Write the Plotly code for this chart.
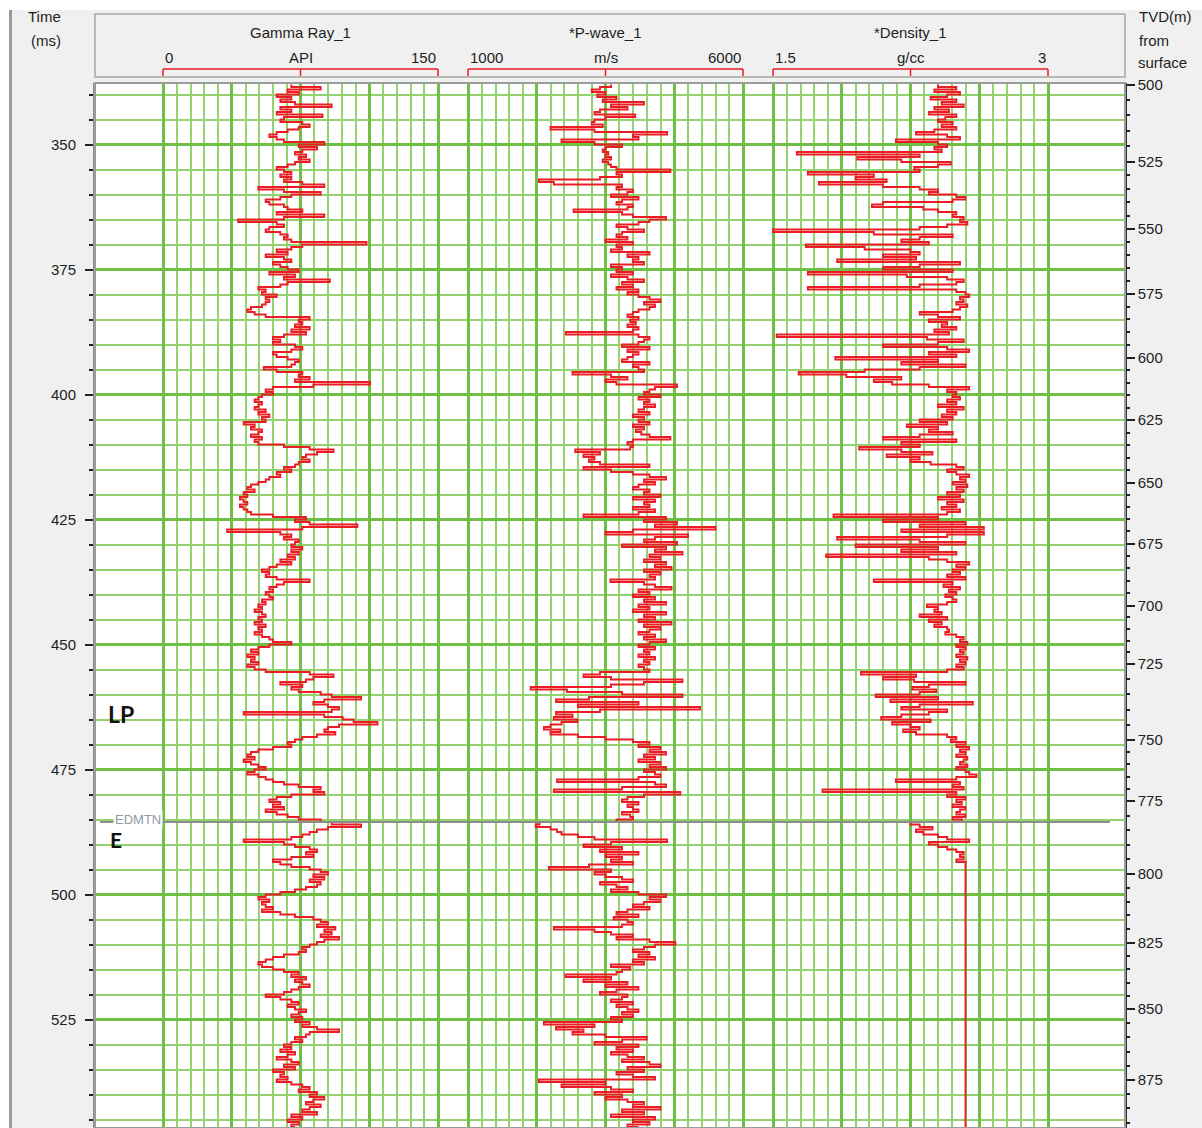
import numpy as np
import plotly.graph_objects as go

# ---------------- DATA ----------------
SAMPLE_START_MS = 338.0
SAMPLE_STEP_MS = 0.5

gamma_api = [
    70, 86, 68, 74, 62, 70, 64, 72, 92, 64,
    70, 62, 87, 66, 64, 76, 80, 74, 68, 62,
    58, 62, 66, 88, 74, 84, 76, 72, 78, 74,
    80, 72, 68, 62, 66, 70, 64, 70, 66, 76,
    88, 52, 66, 86, 70, 64, 56, 58, 66, 68,
    76, 62, 88, 66, 41, 62, 66, 58, 56, 64,
    68, 66, 70, 111, 76, 70, 62, 68, 56, 66,
    70, 60, 64, 68, 74, 58, 72, 66, 91, 68,
    64, 52, 56, 54, 62, 56, 58, 56, 54, 48,
    46, 50, 56, 80, 74, 76, 72, 80, 70, 78,
    66, 60, 64, 60, 72, 76, 70, 60, 62, 68,
    74, 72, 70, 55, 62, 76, 74, 80, 72, 113,
    82, 60, 56, 60, 54, 52, 50, 54, 52, 50,
    56, 52, 58, 54, 56, 44, 50, 48, 54, 52,
    48, 54, 50, 52, 66, 80, 93, 84, 78, 76,
    80, 74, 72, 66, 70, 62, 64, 58, 56, 52,
    48, 46, 50, 44, 46, 42, 44, 46, 42, 44,
    46, 48, 60, 78, 72, 80, 106, 76, 35, 64,
    70, 66, 74, 72, 70, 76, 70, 74, 68, 72,
    64, 70, 62, 58, 54, 58, 56, 62, 80, 66,
    62, 58, 60, 56, 58, 60, 54, 56, 52, 54,
    50, 54, 56, 52, 54, 50, 56, 52, 54, 50,
    54, 58, 60, 70, 58, 52, 48, 52, 46, 50,
    48, 52, 46, 50, 56, 80, 93, 82, 78, 64,
    76, 70, 74, 86, 92, 108, 88, 82, 90, 96,
    92, 44, 88, 98, 104, 117, 96, 90, 88, 94,
    84, 76, 72, 68, 70, 60, 52, 48, 46, 50,
    44, 48, 52, 56, 50, 46, 52, 56, 60, 66,
    74, 86, 82, 88, 70, 62, 58, 64, 60, 66,
    56, 62, 68, 74, 86, 92, 108, 90, 84, 80,
    76, 70, 44, 66, 72, 80, 84, 78, 82, 70,
    60, 64, 70, 80, 86, 90, 82, 88, 80, 86,
    84, 78, 72, 64, 56, 52, 58, 54, 56, 60,
    54, 64, 72, 82, 86, 90, 84, 94, 88, 92,
    86, 96, 88, 84, 80, 76, 78, 74, 66, 60,
    56, 52, 54, 60, 66, 74, 70, 78, 72, 76,
    80, 74, 70, 66, 56, 64, 70, 74, 68, 72,
    78, 74, 70, 76, 72, 80, 76, 84, 96, 80,
    78, 72, 76, 70, 66, 70, 64, 72, 68, 62,
    70, 74, 66, 72, 60, 66, 64, 68, 62, 70,
    76, 80, 74, 84, 80, 88, 82, 78, 86, 80,
    76, 84, 70, 76, 68, 74, 70, 72,
]

pwave_ms = [
    3600, 3400, 3250, 3500, 3350, 3700, 3450, 4200, 3600, 3900,
    3400, 3300, 4040, 3500, 3300, 3250, 3450, 2500, 3300, 4620,
    4000, 4100, 2700, 3300, 3800, 3500, 3450, 3550, 3500, 3600,
    3450, 3550, 3600, 3700, 4680, 3700, 3800, 3400, 2290, 2560,
    3800, 3700, 4000, 3900, 3600, 4100, 3800, 3700, 4000, 3900,
    2920, 3800, 4000, 4600, 4300, 4100, 3700, 3900, 4200, 3800,
    3700, 3900, 3500, 4000, 3700, 3800, 3600, 4300, 3900, 4100,
    4000, 4200, 3600, 3800, 3700, 4000, 3600, 3900, 4200, 3800,
    4000, 3700, 4100, 3900, 4100, 4300, 4500, 4200, 4400, 4300,
    4100, 4000, 3900, 4100, 3950, 4050, 3900, 4100, 4000, 2780,
    4100, 4300, 4200, 4100, 3800, 4300, 3900, 4100, 4000, 3900,
    3800, 4300, 4000, 4100, 4200, 2900, 3600, 3900, 3500, 3700,
    4800, 4400, 4300, 4200, 4500, 4100, 4300, 4200, 4400, 4200,
    4100, 4300, 4000, 4200, 4100, 4300, 4000, 4200, 4050, 4150,
    4300, 4680, 4000, 3900, 4000, 3950, 2950, 3400, 3100, 3300,
    3200, 3400, 4300, 3100, 3600, 4000, 4300, 4600, 4200, 4400,
    4100, 4000, 4300, 4200, 4500, 4000, 4400, 4200, 4300, 4000,
    4400, 4100, 3100, 4600, 4200, 4800, 4400, 5500, 4000, 3500,
    5000, 4400, 4200, 4800, 3800, 4600, 4400, 4900, 4300, 4500,
    4200, 4600, 4400, 4700, 4200, 4500, 4300, 4400, 3590, 4200,
    4400, 4700, 4100, 4300, 4000, 4400, 4200, 4600, 4100, 4300,
    4000, 4600, 4200, 4400, 4100, 4700, 4200, 4500, 4300, 4100,
    4400, 4200, 4600, 4300, 4100, 4400, 4200, 4300, 4100, 4400,
    4200, 4300, 4100, 4200, 4300, 3400, 3100, 3600, 4900, 4200,
    3600, 2140, 2800, 3800, 4900, 3200, 2600, 4100, 3000, 5220,
    3400, 2600, 2900, 2560, 2990, 2700, 2500, 2380, 2680, 2500,
    3000, 3500, 4000, 4300, 4100, 4500, 4300, 4600, 4200, 4400,
    4100, 4500, 4300, 4600, 4200, 4400, 4500, 4100, 2620, 4400,
    4600, 3800, 2560, 4860, 4200, 3900, 3800, 4100, 3900, 4000,
    4100, 3800, 3950, 4000, 3700, 2300, 2230, 2500, 2620, 2700,
    3000, 3300, 4620, 3600, 3100, 3800, 3400, 4100, 3500, 3800,
    3600, 4000, 3200, 2470, 3600, 3300, 3500, 3800, 4000, 3400,
    3700, 3900, 3600, 4100, 4600, 4300, 4500, 4200, 4000, 4300,
    3900, 3700, 4100, 3650, 3900, 4000, 3800, 2560, 3300, 3600,
    4000, 3700, 4300, 4770, 4400, 4200, 4000, 4300, 4100, 4400,
    4000, 4200, 3600, 3950, 3800, 3700, 2770, 3600, 3100, 3900,
    3500, 4100, 3700, 3400, 3900, 3800, 3600, 4000, 3700, 3900,
    4100, 3800, 4000, 3600, 3800, 2380, 3300, 2600, 3100, 2900,
    3500, 4250, 3800, 3300, 4100, 3700, 4000, 3600, 3900, 4200,
    3800, 4300, 4500, 3900, 4200, 3700, 4000, 4400, 2290, 3500,
    2700, 3600, 4000, 3300, 3800, 3500, 3900, 4200, 4000, 4500,
    3800, 4200, 3600, 4400, 4000, 4300, 3900, 4100,
]

density_gcc = [
    2.40, 2.50, 2.38, 2.52, 2.45, 2.36, 2.50, 2.42, 2.54, 2.38,
    2.46, 2.35, 2.50, 2.44, 2.40, 2.48, 2.42, 2.50, 2.38, 2.28,
    2.45, 2.52, 2.17, 2.40, 2.45, 2.38, 2.42, 1.63, 2.30, 1.96,
    2.20, 2.47, 2.40, 2.27, 2.30, 1.69, 2.05, 1.95, 2.12, 1.75,
    2.10, 2.30, 2.40, 2.35, 2.50, 2.55, 2.48, 2.10, 2.04, 2.32,
    2.40, 2.50, 2.48, 2.54, 2.52, 2.56, 2.45, 2.30, 1.50, 2.05,
    2.48, 2.30, 2.20, 2.35, 1.68, 2.00, 2.25, 2.30, 2.10, 2.28,
    1.85, 2.52, 2.30, 2.10, 2.48, 1.69, 2.23, 2.45, 2.54, 2.50,
    2.30, 1.69, 2.50, 2.55, 2.57, 2.52, 2.54, 2.50, 2.56, 2.52,
    2.48, 2.30, 2.40, 2.52, 2.35, 2.45, 2.42, 2.50, 2.38, 2.46,
    1.52, 2.34, 2.54, 2.40, 2.10, 2.45, 2.57, 2.35, 2.50, 1.84,
    2.40, 2.20, 2.55, 2.30, 2.00, 1.64, 1.90, 2.20, 2.05, 2.15,
    2.35, 2.57, 2.45, 2.50, 2.48, 2.52, 2.45, 2.50, 2.40, 2.54,
    2.45, 2.50, 2.42, 2.48, 2.30, 2.45, 2.23, 2.40, 2.35, 2.48,
    2.30, 2.10, 2.50, 2.20, 2.30, 1.97, 2.20, 2.37, 2.12, 2.30,
    2.25, 2.36, 2.50, 2.54, 2.45, 2.50, 2.57, 2.52, 2.55, 2.48,
    2.56, 2.50, 2.54, 2.45, 2.52, 2.40, 2.54, 2.45, 2.50, 2.42,
    2.52, 2.45, 1.83, 2.40, 2.10, 2.55, 2.30, 2.65, 2.20, 2.65,
    2.45, 1.85, 2.30, 2.55, 1.95, 2.40, 2.20, 2.50, 1.79, 2.35,
    2.45, 2.57, 2.50, 2.55, 2.48, 2.52, 2.45, 2.55, 2.05, 2.48,
    2.43, 2.52, 2.46, 2.50, 2.44, 2.48, 2.50, 2.45, 2.34, 2.40,
    2.38, 2.42, 2.30, 2.45, 2.35, 2.42, 2.38, 2.45, 2.46, 2.44,
    2.50, 2.54, 2.52, 2.56, 2.50, 2.55, 2.52, 2.54, 2.50, 2.56,
    2.52, 2.55, 2.50, 2.54, 2.45, 1.98, 2.28, 2.10, 2.27, 2.55,
    2.35, 2.26, 2.39, 2.30, 2.06, 2.40, 2.14, 2.59, 2.30, 2.20,
    2.45, 2.35, 2.20, 2.09, 2.36, 2.15, 2.25, 2.30, 2.21, 2.28,
    2.45, 2.50, 2.47, 2.55, 2.50, 2.57, 2.52, 2.55, 2.50, 2.56,
    2.54, 2.52, 2.56, 2.50, 2.55, 2.57, 2.61, 2.50, 2.17, 2.52,
    2.48, 2.54, 1.77, 2.50, 2.45, 2.55, 2.50, 2.53, 2.48, 2.55,
    2.52, 2.50, 2.55, 2.48, 2.53, 2.25, 2.30, 2.37, 2.28, 2.32,
    2.40, 2.45, 2.57, 2.35, 2.40, 2.45, 2.50, 2.54, 2.52, 2.54,
    2.50, 2.55,
]
DENSITY_CONST_TO_MS = 546.7   # density log held flat to the bottom of the view

# time axis
TIME_TOP_MS, TIME_BOTTOM_MS = 337.7, 546.7

# TVD (m) labels on right axis and their two-way-time equivalents (ms)
tvd_labels_m = [500, 525, 550, 575, 600, 625, 650, 675, 700, 725, 750, 775, 800, 825, 850, 875]
tvd_times_ms = [338.0, 353.4, 366.9, 379.9, 392.6, 405.1, 417.7, 429.8, 442.2, 453.9,
                469.1, 481.3, 495.9, 509.7, 522.9, 537.1]

EDMTN_TOP_MS = 485.5

# ---------------- LAYOUT GEOMETRY ----------------
W, H = 1202, 1128
PL, PR, PT, PB = 95, 1125, 83, 1128


def pxx(p):
    return (p - PL) / (PR - PL)


def pyy(p):
    return 1 - (p - PT) / (PB - PT)


RED = "#ec1c24"
GRID_MAJ = "#6fbf45"
GRID_MIN = "#92d36f"
TXT = "#1e1e1e"
FONT = "Liberation Sans, Arial, sans-serif"

tracks = [
    dict(ax="x2", title="Gamma Ray_1", unit="API", lo=0, hi=150, lo_t="0", hi_t="150",
         p0=163, p1=438, vals=gamma_api),
    dict(ax="x3", title="*P-wave_1", unit="m/s", lo=1000, hi=6000, lo_t="1000", hi_t="6000",
         p0=468, p1=743, vals=pwave_ms),
    dict(ax="x4", title="*Density_1", unit="g/cc", lo=1.5, hi=3.0, lo_t="1.5", hi_t="3",
         p0=773, p1=1048, vals=density_gcc),
]

fig = go.Figure()

# base subplot (full width) so horizontal grid spans the whole panel
fig.add_trace(go.Scatter(x=[None], y=[None], xaxis="x", yaxis="y", showlegend=False, hoverinfo="skip"))
fig.add_trace(go.Scatter(x=[None], y=[None], xaxis="x", yaxis="y2", showlegend=False, hoverinfo="skip"))
fig.add_trace(go.Scatter(x=[None], y=[None], xaxis="x", yaxis="y3", showlegend=False, hoverinfo="skip"))

layout_axes = {}
for tr in tracks:
    vals = list(tr["vals"])
    times = [SAMPLE_START_MS + SAMPLE_STEP_MS * i for i in range(len(vals))]
    if tr["ax"] == "x4":
        times.append(DENSITY_CONST_TO_MS)
        vals.append(vals[-1])
    fig.add_trace(go.Scatter(
        x=vals, y=times, xaxis=tr["ax"], yaxis="y", mode="lines",
        line=dict(color=RED, width=1.9, shape="vh"), showlegend=False, hoverinfo="skip"))

    span = tr["hi"] - tr["lo"]
    minor = span / 20.0
    ppx = (tr["p1"] - tr["p0"]) / 20.0
    key = "xaxis" + tr["ax"][1:]
    layout_axes[key] = dict(
        domain=[pxx(tr["p0"] - ppx), pxx(tr["p1"] + ppx)],
        range=[tr["lo"] - minor, tr["hi"] + minor],
        anchor="y", showticklabels=False, ticks="", zeroline=False, showline=False,
        tick0=tr["lo"], dtick=span / 4.0, showgrid=True, gridcolor=GRID_MAJ, gridwidth=3,
        minor=dict(tick0=tr["lo"], dtick=minor, showgrid=True, gridcolor=GRID_MIN, gridwidth=2, ticks=""),
        fixedrange=True,
    )

# minor TVD ticks every 5 m
slope = (tvd_times_ms[-1] - tvd_times_ms[-2]) / (tvd_labels_m[-1] - tvd_labels_m[-2])
tvd_minor_times = []
for d in range(500, 895, 5):
    if d in tvd_labels_m:
        continue
    if d <= tvd_labels_m[-1]:
        tvd_minor_times.append(float(np.interp(d, tvd_labels_m, tvd_times_ms)))
    else:
        tvd_minor_times.append(tvd_times_ms[-1] + (d - tvd_labels_m[-1]) * slope)

shapes = []
# white plot area (below grid)
shapes.append(dict(type="rect", xref="paper", yref="paper", x0=0, x1=1, y0=0, y1=1,
                   fillcolor="white", line=dict(width=0), layer="below"))
# plot border
shapes.append(dict(type="rect", xref="paper", yref="paper", x0=0, x1=1, y0=0, y1=1,
                   fillcolor="rgba(0,0,0,0)", line=dict(color="#9c9c9c", width=2), layer="above"))
# header box
shapes.append(dict(type="rect", xref="paper", yref="paper", x0=pxx(95), x1=pxx(1125),
                   y0=pyy(77), y1=pyy(14), fillcolor="#f0f0f0", line=dict(color="#a6a6a6", width=1.5),
                   layer="below"))
# top white band and left window border
shapes.append(dict(type="rect", xref="paper", yref="paper", x0=pxx(0), x1=pxx(W),
                   y0=pyy(10), y1=pyy(0), fillcolor="white", line=dict(width=0), layer="below"))
shapes.append(dict(type="rect", xref="paper", yref="paper", x0=pxx(0), x1=pxx(9),
                   y0=pyy(H), y1=pyy(0), fillcolor="white", line=dict(width=0), layer="below"))
shapes.append(dict(type="line", xref="paper", yref="paper", x0=pxx(10.5), x1=pxx(10.5),
                   y0=pyy(H), y1=pyy(10), line=dict(color="#9a9a9a", width=3), layer="below"))

annotations = []


def ann(**kw):
    base = dict(showarrow=False, xanchor="center", yanchor="middle")
    base.update(kw)
    annotations.append(base)


for tr in tracks:
    mid = (tr["lo"] + tr["hi"]) / 2.0
    yb, yt = pyy(76), pyy(69)
    shapes.append(dict(type="line", xref=tr["ax"], yref="paper", x0=tr["lo"], x1=tr["hi"],
                       y0=yt, y1=yt, line=dict(color=RED, width=1.5)))
    for v in (tr["lo"], mid, tr["hi"]):
        shapes.append(dict(type="line", xref=tr["ax"], yref="paper", x0=v, x1=v,
                           y0=yb, y1=yt, line=dict(color=RED, width=1.5)))
    f = dict(size=15, color=TXT, family=FONT)
    ann(xref=tr["ax"], yref="paper", x=mid, y=pyy(33), text=tr["title"], font=f)
    ann(xref=tr["ax"], yref="paper", x=mid, y=pyy(57), text=tr["unit"], font=f)
    ann(xref=tr["ax"], yref="paper", x=tr["lo"], y=pyy(57), text=tr["lo_t"], xanchor="left", font=f)
    ann(xref=tr["ax"], yref="paper", x=tr["hi"], y=pyy(57), text=tr["hi_t"], xanchor="right", font=f)

# EDMTN formation top
shapes.append(dict(type="line", xref="paper", yref="y", x0=pxx(100), x1=pxx(1110),
                   y0=EDMTN_TOP_MS, y1=EDMTN_TOP_MS, line=dict(color="#8c8c8c", width=2), layer="above"))
ann(xref="paper", yref="y", x=pxx(138), y=EDMTN_TOP_MS - 0.5, text="EDMTN",
    bgcolor="white", borderpad=1, font=dict(size=13, color="#8e9aa8", family=FONT))
ann(xref="paper", yref="paper", x=pxx(121), y=pyy(714), text="<b>LP</b>",
    font=dict(size=23, color="#111111", family="Lato, Open Sans, sans-serif"))
ann(xref="paper", yref="paper", x=pxx(116), y=pyy(839), text="<b>E</b>",
    font=dict(size=21, color="#111111", family="Lato, Open Sans, sans-serif"))

# axis titles
for txt, x, y, anc in [("Time", 44, 16, "center"), ("(ms)", 46, 40, "center"),
                       ("TVD(m)", 1137, 16, "left"), ("from", 1137, 40, "left"),
                       ("surface", 1136, 63, "left")]:
    ann(xref="paper", yref="paper", x=pxx(x), y=pyy(y), text=txt, xanchor=anc,
        font=dict(size=15, color=TXT, family=FONT))

fig.update_layout(
    width=W, height=H, autosize=False,
    margin=dict(l=PL, r=W - PR, t=PT, b=H - PB, pad=0),
    paper_bgcolor="#f0f0f0", plot_bgcolor="rgba(0,0,0,0)",
    showlegend=False,
    xaxis=dict(domain=[0, 1], range=[0, 1], visible=False, anchor="y", fixedrange=True),
    yaxis=dict(domain=[0, 1], range=[TIME_BOTTOM_MS, TIME_TOP_MS], anchor="x", side="left",
               tick0=0, dtick=25, showgrid=True, gridcolor=GRID_MAJ, gridwidth=3,
               ticks="outside", ticklen=8, tickwidth=1.5, tickcolor="#222",
               ticklabelstandoff=6,
               minor=dict(dtick=5, showgrid=True, gridcolor=GRID_MIN, gridwidth=2,
                          ticks="outside", ticklen=4, tickcolor="#222", tickwidth=1.5),
               zeroline=False, showline=True, linecolor="#8c8c8c", linewidth=2,
               tickfont=dict(size=15, color=TXT, family=FONT), fixedrange=True),
    yaxis2=dict(overlaying="y", side="right", anchor="x", range=[TIME_BOTTOM_MS, TIME_TOP_MS],
                tickmode="array", tickvals=tvd_times_ms, ticktext=[str(v) for v in tvd_labels_m],
                ticks="outside", ticklen=8, tickwidth=1.5, tickcolor="#222", showgrid=False,
                zeroline=False, showline=True, linecolor="#333", linewidth=1.5,
                tickfont=dict(size=15, color=TXT, family=FONT), fixedrange=True),
    yaxis3=dict(overlaying="y", side="right", anchor="x", range=[TIME_BOTTOM_MS, TIME_TOP_MS],
                tickmode="array", tickvals=tvd_minor_times, showticklabels=False,
                ticks="outside", ticklen=4, tickwidth=1.5, tickcolor="#222", showgrid=False,
                zeroline=False, showline=False, fixedrange=True),
    shapes=shapes, annotations=annotations,
    **layout_axes,
)

fig.write_html(
    "out.html",
    config={"displayModeBar": False},
    post_script="document.body.style.margin='0px';document.body.style.padding='0px';"
                "document.body.style.overflow='hidden';",
)
